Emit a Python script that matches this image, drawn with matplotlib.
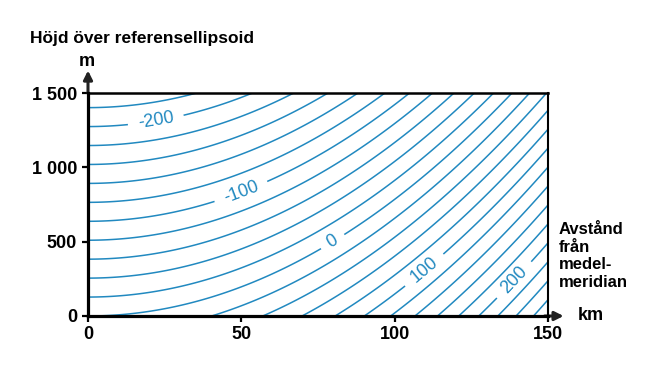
import numpy as np
import matplotlib
matplotlib.use("Agg")
import matplotlib.pyplot as plt

# ---- data ----
x_ticks = [0, 50, 100, 150]            # km from central meridian
x_ticklabels = ["0", "50", "100", "150"]
h_ticks = [0, 500, 1000, 1500]         # m above reference ellipsoid
h_ticklabels = ["0", "500", "1 000", "1 500"]
levels = list(range(-240, 300, 20))    # distortion (mm/km), contour interval 20
label_levels = [-200, -100, 0, 100, 200]
label_pos_km = [22, 50, 79.5, 109, 139]
label_pos_m = [1330, 830, 510, 325, 242]
earth_radius_km = 6371.0               # model parameter of the chart

line_color = "#2189c0"

# distortion field: projection scale term minus height reduction (ppm = mm/km)
xs = np.linspace(0, 150, 301)
hs = np.linspace(0, 1500, 301)
X, H = np.meshgrid(xs, hs)
Z = X**2 / (2 * earth_radius_km**2) * 1e6 - H / (earth_radius_km * 1000) * 1e6

fig = plt.figure(figsize=(6.53, 3.70), dpi=100)
ax = fig.add_axes([88/653, 1-316/370, 460/653, 223/370])

plain_levels = [v for v in levels if v not in label_levels]
ax.contour(X, H, Z, levels=plain_levels, colors=line_color, linewidths=1.1,
           linestyles="solid")
cs = ax.contour(X, H, Z, levels=label_levels, colors=line_color, linewidths=1.1,
                linestyles="solid")
lbl = ax.clabel(cs, inline=True, inline_spacing=8,
                fontsize=13, fmt="%d",
                manual=list(zip(label_pos_km, label_pos_m)))
for t in lbl:
    t.set_color(line_color)
    t.set_family("Liberation Sans")

ax.set_xlim(0, 150)
ax.set_ylim(0, 1500)

ax.spines["top"].set_linewidth(1.8)
ax.spines["right"].set_linewidth(1.5)
for side in ["left", "bottom"]:
    ax.spines[side].set_linewidth(2.3)
for s in ax.spines.values():
    s.set_color("black")
    s.set_zorder(5)

ax.set_xticks(x_ticks)
ax.set_xticklabels(x_ticklabels)
ax.set_yticks(h_ticks)
ax.set_yticklabels(h_ticklabels)
ax.tick_params(direction="out", length=4, width=1.6, colors="black",
               labelsize=13)
ax.tick_params(axis="y", pad=4)
ax.tick_params(axis="x", pad=3)
for t in ax.get_xticklabels() + ax.get_yticklabels():
    t.set_fontweight("bold")
    t.set_family("Liberation Sans")

# arrows on axes
ax.annotate("", xy=(0, 1670), xytext=(0, 1480),
            arrowprops=dict(arrowstyle="-|>", color="#222222", lw=2.2,
                            mutation_scale=13),
            annotation_clip=False)
ax.annotate("", xy=(156, 0), xytext=(148, 0),
            arrowprops=dict(arrowstyle="-|>", color="#222222", lw=2.2,
                            mutation_scale=13),
            annotation_clip=False)

font = dict(family="Liberation Sans", fontweight="bold", color="black")
fig.text(30/653, 1-43/370, "Höjd över referensellipsoid", fontsize=12.5,
         va="baseline", ha="left", **font)
fig.text(87/653, 1-62/370, "m", fontsize=13, va="center", ha="center", **font)
fig.text(578/653, 1-316/370, "km", fontsize=13, va="center", ha="left", **font)
fig.text(559/653, 1-256/370, "Avstånd\nfrån\nmedel-\nmeridian", fontsize=12,
         va="center", ha="left", linespacing=1.2, **font)

fig.savefig("out.png", dpi=100)
